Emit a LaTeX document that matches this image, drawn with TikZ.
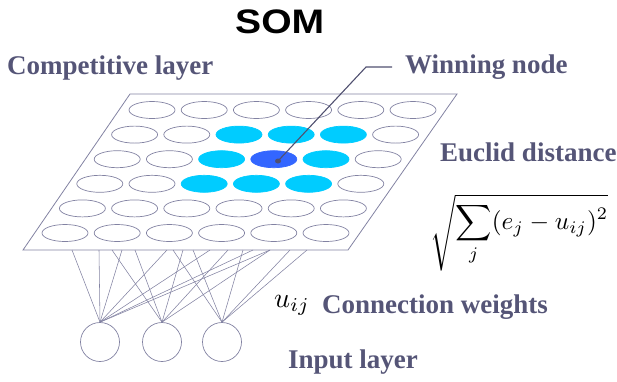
\documentclass[tikz,border=0pt]{standalone}
\usepackage{fontspec}
\setmainfont{Liberation Serif}
\newfontfamily\sansb{Liberation Sans}
\usetikzlibrary{shapes.geometric}
\definecolor{txt}{HTML}{555577}
\definecolor{lin}{HTML}{8282A2}
\definecolor{cyanf}{HTML}{00CCFF}
\definecolor{winf}{HTML}{3366FF}
\definecolor{ptr}{HTML}{505070}
\begin{document}
\begin{tikzpicture}[x=1pt,y=-1pt,
  cell/.style={ellipse, draw=lin, line width=0.7pt, minimum width=46pt, minimum height=17pt, inner sep=0pt},
  nb/.style={fill=cyanf, draw=cyanf},
  win/.style={fill=winf, draw=winf},
  st 2-3/.style={nb}, st 2-4/.style={nb}, st 2-5/.style={nb},
  st 3-3/.style={nb}, st 3-4/.style={win}, st 3-5/.style={nb},
  st 4-3/.style={nb}, st 4-4/.style={nb}, st 4-5/.style={nb},
  inp/.style={circle, draw=lin, line width=0.7pt, minimum size=39pt, inner sep=0pt},
  lbl/.style={text=txt, font=\fontsize{27}{30}\selectfont\bfseries, anchor=base west, inner sep=0pt},
  wire/.style={draw=lin, line width=0.55pt},
  plane/.style={draw=lin, line width=0.8pt},
  pointer/.style={draw=ptr, line width=1.1pt}]
\useasboundingbox (0,0) rectangle (617,381);

% competitive layer plane
\coordinate (pTL) at (130,94);
\coordinate (pTR) at (457,94);
\coordinate (pBR) at (348,250);
\coordinate (pBL) at (23,250);
\draw[plane] (pTL) -- (pTR) -- (pBR) -- (pBL) -- cycle;

% grid of nodes
\foreach \r in {1,...,6}{
  \foreach \c in {1,...,6}{
    \node[cell, st \r-\c/.try] (e-\r-\c) at ({152-(\r-1)*17.4+(\c-1)*52.2},{110+(\r-1)*24.6}) {};
  }
}

% input layer
\node[inp] (i1) at (100,342) {};
\node[inp] (i2) at (162,342) {};
\node[inp] (i3) at (222,342) {};

% connection weights
\foreach \x in {72,99,122,167,210,253,270}{
  \coordinate (a-\x) at (\x,250);
  \draw[wire] (a-\x) -- (i1.north);
}
\foreach \x in {112,135,183,228,270}{
  \coordinate (b-\x) at (\x,250);
  \draw[wire] (b-\x) -- (i2.north);
}
\foreach \x in {173,193,243,290,307}{
  \coordinate (c-\x) at (\x,250);
  \draw[wire] (c-\x) -- (i3.north);
}

% winning node pointer
\node[ellipse, fill=ptr, minimum width=6pt, minimum height=5pt, inner sep=0pt] (dot) at (278,161) {};
\coordinate (bend) at (366,67);
\coordinate (pend) at (392,67);
\draw[pointer] (dot.center) -- (bend) -- (pend);

% labels
\node[anchor=base west, inner sep=0pt, font=\sansb\bfseries\fontsize{34}{36}\selectfont] (som) at (235,33) {\scalebox{1.15}[1]{SOM}};
\node[lbl] (comp) at (7,74) {Competitive layer};
\node[lbl] (winlbl) at (405,73) {Winning node};
\node[lbl] (eucl) at (440,161) {Euclid distance};
\node[lbl] (conn) at (322,313) {Connection weights};
\node[lbl] (inlbl) at (288,368) {Input layer};
\node[anchor=base west, inner sep=0pt] (uij) at (274,307) {\scalebox{2.8}{$u_{ij}$}};
\node[anchor=north west, inner sep=0pt] (dist) at (430,194) {\resizebox{178pt}{!}{$\sqrt{\displaystyle\sum_j (e_j - u_{ij})^2}$}};
\end{tikzpicture}
\end{document}
